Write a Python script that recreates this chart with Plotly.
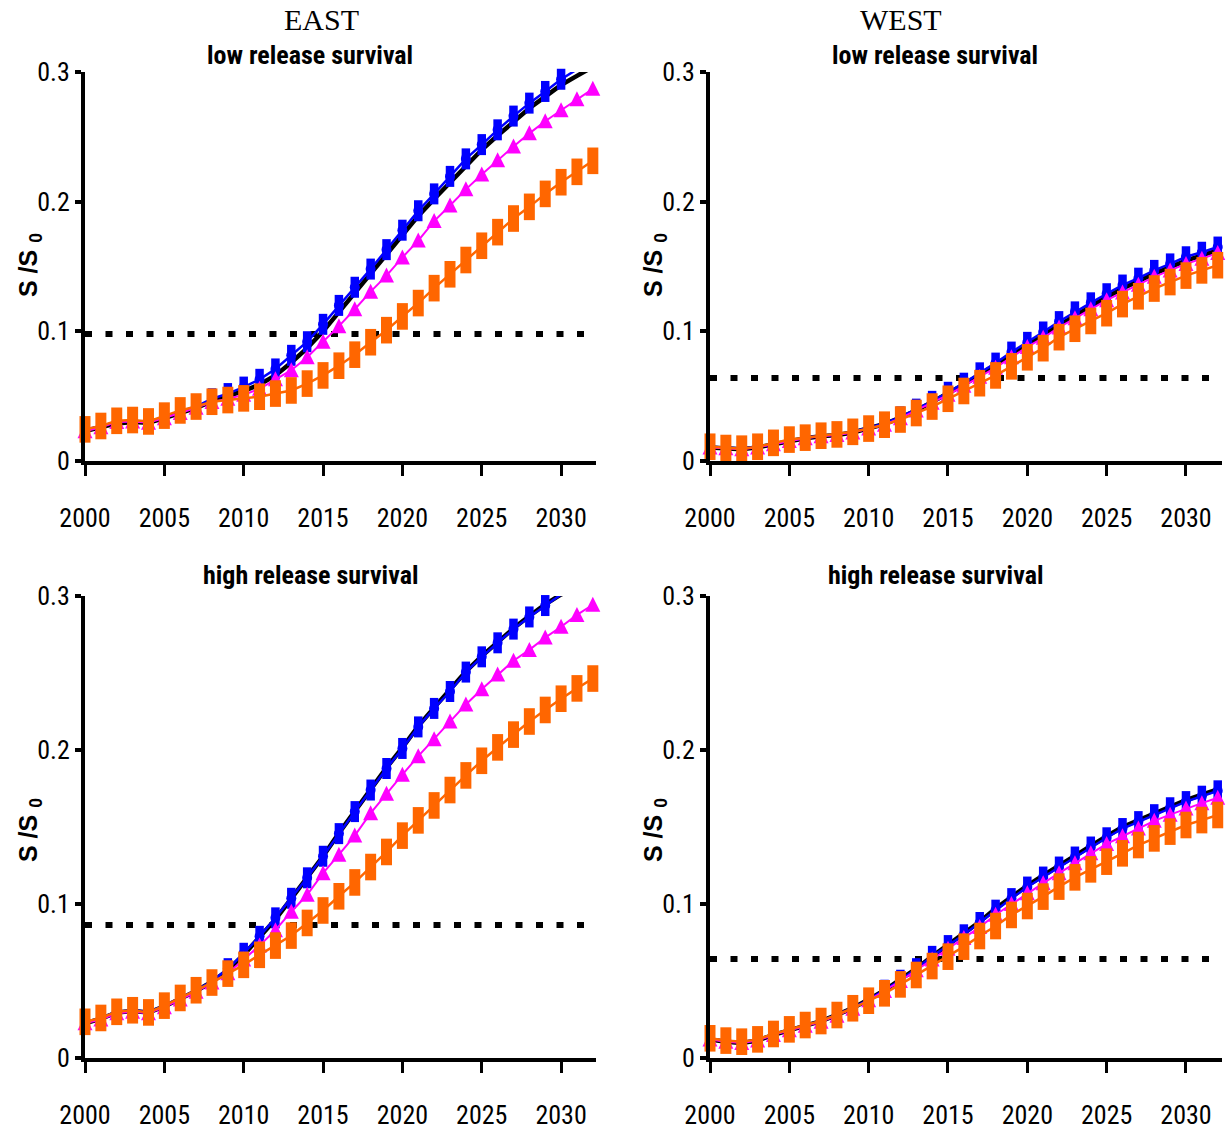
import plotly.graph_objects as go

years = list(range(2000, 2033))

# EAST, low release survival
east_low_black = [0.023,0.026,0.029,0.030,0.0295,0.033,0.037,0.041,0.046,0.050,0.054,0.059,0.066,0.076,0.087,0.100,0.115,0.129,0.144,0.159,0.174,0.189,0.202,0.215,0.228,0.240,0.251,0.262,0.272,0.281,0.290,0.297,0.304]
east_low_blue = [0.024,0.027,0.030,0.031,0.030,0.034,0.038,0.042,0.048,0.052,0.057,0.063,0.071,0.0815,0.092,0.1054,0.120,0.134,0.148,0.163,0.178,0.193,0.206,0.2195,0.233,0.244,0.2554,0.266,0.276,0.285,0.2944,0.302,0.309]
east_low_magenta = [0.023,0.026,0.030,0.0305,0.0295,0.033,0.037,0.041,0.0455,0.048,0.051,0.0557,0.063,0.070,0.080,0.092,0.104,0.117,0.1306,0.143,0.157,0.170,0.185,0.197,0.2095,0.221,0.232,0.2426,0.2527,0.262,0.2705,0.279,0.287]
east_low_orange = [0.0244,0.027,0.031,0.0316,0.0305,0.035,0.039,0.042,0.0457,0.047,0.0483,0.0496,0.052,0.0544,0.0597,0.066,0.0735,0.082,0.0916,0.1009,0.1115,0.1218,0.1333,0.144,0.155,0.166,0.1765,0.187,0.196,0.206,0.215,0.223,0.2315]

# WEST, low release survival
west_low_black = [0.0105,0.0098,0.0091,0.0105,0.013,0.0155,0.0175,0.019,0.020,0.022,0.025,0.0285,0.0335,0.039,0.0455,0.052,0.059,0.0665,0.074,0.082,0.090,0.0975,0.105,0.1125,0.1195,0.1265,0.133,0.139,0.1445,0.1495,0.1545,0.1585,0.1625]
west_low_blue = [0.011,0.0103,0.0096,0.011,0.0135,0.016,0.018,0.0195,0.0205,0.0225,0.0255,0.029,0.034,0.040,0.046,0.053,0.060,0.068,0.0755,0.084,0.0915,0.0995,0.1075,0.115,0.122,0.129,0.1357,0.141,0.147,0.152,0.1575,0.161,0.165]
west_low_magenta = [0.0105,0.0098,0.0091,0.0105,0.013,0.0155,0.0175,0.019,0.020,0.022,0.025,0.028,0.033,0.039,0.045,0.051,0.058,0.065,0.072,0.080,0.088,0.095,0.103,0.110,0.117,0.124,0.130,0.136,0.142,0.147,0.152,0.156,0.1605]
west_low_orange = [0.011,0.010,0.0095,0.011,0.014,0.0165,0.018,0.0195,0.0205,0.0225,0.025,0.028,0.032,0.037,0.042,0.048,0.054,0.060,0.066,0.073,0.080,0.087,0.0955,0.102,0.108,0.114,0.121,0.127,0.133,0.138,0.143,0.147,0.151]

# EAST, high release survival
east_high_black = [0.0225,0.0255,0.0295,0.0305,0.0295,0.0335,0.0385,0.0435,0.0495,0.057,0.067,0.078,0.090,0.1035,0.117,0.131,0.146,0.1605,0.1745,0.1885,0.2015,0.2155,0.2275,0.239,0.251,0.261,0.270,0.279,0.287,0.2945,0.301,0.306,0.311]
east_high_blue = [0.023,0.026,0.030,0.031,0.030,0.034,0.039,0.044,0.050,0.058,0.068,0.079,0.091,0.1037,0.117,0.131,0.1457,0.160,0.174,0.188,0.201,0.215,0.227,0.238,0.2506,0.2605,0.2696,0.2785,0.2864,0.2938,0.301,0.307,0.313]
east_high_magenta = [0.0225,0.025,0.029,0.030,0.029,0.033,0.038,0.043,0.049,0.055,0.064,0.073,0.083,0.095,0.106,0.120,0.132,0.1444,0.159,0.1716,0.184,0.196,0.207,0.2185,0.2296,0.2395,0.249,0.258,0.265,0.273,0.280,0.2877,0.2943]
east_high_orange = [0.0235,0.026,0.030,0.031,0.0296,0.034,0.039,0.044,0.049,0.0548,0.0605,0.067,0.073,0.0795,0.0877,0.0958,0.105,0.114,0.124,0.1338,0.1444,0.1543,0.164,0.174,0.1835,0.193,0.2017,0.210,0.2185,0.226,0.2333,0.240,0.2464]

# WEST, high release survival
west_high_black = [0.012,0.0105,0.0098,0.0114,0.015,0.018,0.021,0.024,0.028,0.0325,0.038,0.044,0.051,0.058,0.066,0.0735,0.0805,0.0885,0.097,0.1045,0.112,0.1185,0.125,0.1315,0.138,0.144,0.150,0.1545,0.159,0.1635,0.1675,0.171,0.1745]
west_high_blue = [0.0125,0.011,0.0102,0.0118,0.0153,0.0184,0.0212,0.024,0.028,0.0325,0.038,0.044,0.0505,0.058,0.066,0.073,0.080,0.088,0.096,0.1035,0.111,0.1175,0.124,0.1305,0.137,0.143,0.149,0.1535,0.158,0.1625,0.1665,0.170,0.1735]
west_high_magenta = [0.012,0.0105,0.0098,0.0114,0.015,0.018,0.021,0.0235,0.0275,0.032,0.0375,0.0435,0.050,0.057,0.064,0.071,0.078,0.085,0.093,0.100,0.107,0.1135,0.120,0.1265,0.133,0.139,0.144,0.149,0.154,0.158,0.162,0.1655,0.169]
west_high_orange = [0.0128,0.0113,0.0106,0.0121,0.0156,0.0186,0.0214,0.024,0.0279,0.0323,0.0372,0.042,0.0478,0.0539,0.0597,0.0658,0.0723,0.0792,0.0857,0.0929,0.0987,0.1048,0.1113,0.1173,0.1225,0.1275,0.1329,0.1383,0.1426,0.147,0.1513,0.1545,0.1578]

# dotted reference levels and their x extent
ref_levels = [0.098, 0.064, 0.0864, 0.0643]
ref_x = [2000, 2031.5]

x_ticks = [2000, 2005, 2010, 2015, 2020, 2025, 2030]
y_ticks = [0, 0.1, 0.2, 0.3]
y_tick_labels = ["0", "0.1", "0.2", "0.3"]

panel_titles = ["low release survival", "low release survival",
                "high release survival", "high release survival"]
region_titles = ["EAST", "WEST"]

BLUE = "#0000FF"
MAGENTA = "#FF00FF"
ORANGE = "#FF6600"
NARROW = "Liberation Sans Narrow, Arial Narrow, Roboto Condensed, Roboto, sans-serif"
YMAX = 0.3

panels = [
    ("x", "y", east_low_black, east_low_blue, east_low_magenta, east_low_orange, ref_levels[0]),
    ("x2", "y2", west_low_black, west_low_blue, west_low_magenta, west_low_orange, ref_levels[1]),
    ("x3", "y3", east_high_black, east_high_blue, east_high_magenta, east_high_orange, ref_levels[2]),
    ("x4", "y4", west_high_black, west_high_blue, west_high_magenta, west_high_orange, ref_levels[3]),
]

fig = go.Figure()

def vis(values, s):
    # markers beyond the axis maximum are not drawn (as in the source chart)
    return [s if v <= YMAX else 0 for v in values]

for xa, ya, blk, blu, mag, ora, ref in panels:
    common = dict(xaxis=xa, yaxis=ya, showlegend=False, cliponaxis=False, hoverinfo="skip")
    fig.add_trace(go.Scatter(x=ref_x, y=[ref, ref], mode="lines",
                             line=dict(color="black", width=6, dash="7px,13.5px"), **common))
    fig.add_trace(go.Scatter(x=years, y=blk, mode="lines",
                             line=dict(color="black", width=4.5), **common))
    # blue: round marker stretched vertically (circle + vertical bar)
    fig.add_trace(go.Scatter(x=years, y=blu, mode="lines+markers",
                             line=dict(color=BLUE, width=2.5),
                             marker=dict(symbol="circle", size=vis(blu, 10), color=BLUE, opacity=1,
                                         line=dict(width=0)), **common))
    fig.add_trace(go.Scatter(x=years, y=blu, mode="markers",
                             marker=dict(symbol="line-ns-open", size=vis(blu, 15), color=BLUE, opacity=1,
                                         line=dict(width=8.5, color=BLUE)), **common))
    # magenta triangles (apex up, centred on the point)
    fig.add_trace(go.Scatter(x=years, y=mag, mode="lines",
                             line=dict(color=MAGENTA, width=2), **common))
    fig.add_trace(go.Scatter(x=years, y=mag, mode="markers",
                             marker=dict(symbol="arrow-down", angle=180, standoff=8,
                                         size=vis(mag, 15), color=MAGENTA, opacity=1,
                                         line=dict(width=0)), **common))
    # orange tall squares
    fig.add_trace(go.Scatter(x=years, y=ora, mode="lines",
                             line=dict(color=ORANGE, width=2.5), **common))
    fig.add_trace(go.Scatter(x=years, y=ora, mode="markers",
                             marker=dict(symbol="line-ns-open", size=vis(ora, 19), color=ORANGE, opacity=1,
                                         line=dict(width=11, color=ORANGE)), **common))

W, H = 1226, 1136
left_dom = [85 / W, 596 / W]
right_dom = [710 / W, 1222 / W]
top_dom = [1 - 461 / H, 1 - 72 / H]
bot_dom = [1 - 1058 / H, 1 - 596 / H]

def xaxis(domain, anchor, rng):
    return dict(domain=domain, anchor=anchor, range=rng, showline=True, linewidth=4,
                linecolor="black", ticks="outside", ticklen=11, tickwidth=3, tickcolor="black",
                tickvals=x_ticks, showgrid=False, zeroline=False, automargin=False,
                tickfont=dict(family=NARROW, size=26, color="black"),
                ticklabelstandoff=20)

def yaxis(domain, anchor):
    return dict(domain=domain, anchor=anchor, range=[0, YMAX], showline=True, linewidth=4,
                linecolor="black", ticks="outside", ticklen=6, tickwidth=4, tickcolor="black",
                tickvals=y_ticks, ticktext=y_tick_labels, showgrid=False, zeroline=False,
                automargin=False,
                tickfont=dict(family=NARROW, size=26, color="black"))

fig.update_layout(
    width=W, height=H, margin=dict(l=0, r=0, t=0, b=0, pad=0, autoexpand=False),
    paper_bgcolor="white", plot_bgcolor="white",
    xaxis=xaxis(left_dom, "y", [2000, 2032.2]),
    yaxis=yaxis(top_dom, "x"),
    xaxis2=xaxis(right_dom, "y2", [2000, 2032.27]),
    yaxis2=yaxis(top_dom, "x2"),
    xaxis3=xaxis(left_dom, "y3", [2000, 2032.2]),
    yaxis3=yaxis(bot_dom, "x3"),
    xaxis4=xaxis(right_dom, "y4", [2000, 2032.27]),
    yaxis4=yaxis(bot_dom, "x4"),
)

SERIF = "Liberation Serif, Times New Roman, serif"
ann = []
for t, px in zip(region_titles, (321, 901)):
    ann.append(dict(text=t, x=px / W, y=1 - 20 / H, xref="paper", yref="paper",
                    xanchor="center", yanchor="middle", showarrow=False,
                    font=dict(family=SERIF, size=30, color="black")))
title_pos = [(310, 55), (935, 55), (310, 575), (935, 575)]
for t, (px, py) in zip(panel_titles, title_pos):
    ann.append(dict(text="<b>%s</b>" % t, x=px / W, y=1 - py / H, xref="paper", yref="paper",
                    xanchor="center", yanchor="middle", showarrow=False,
                    font=dict(family=NARROW, size=26, color="black")))
ylab_pos = [(30, 265), (655, 265), (30, 830), (655, 830)]
for px, py in ylab_pos:
    ann.append(dict(text="<b>S /S <sub>0</sub></b>", x=px / W, y=1 - py / H, xref="paper", yref="paper",
                    xanchor="center", yanchor="middle", showarrow=False, textangle=-90,
                    font=dict(family="Liberation Sans, Arial, sans-serif", size=25, color="black")))
fig.update_layout(annotations=ann)

fig.write_html("out.html", config={"displayModeBar": False},
               post_script="document.body.style.margin='0';")
